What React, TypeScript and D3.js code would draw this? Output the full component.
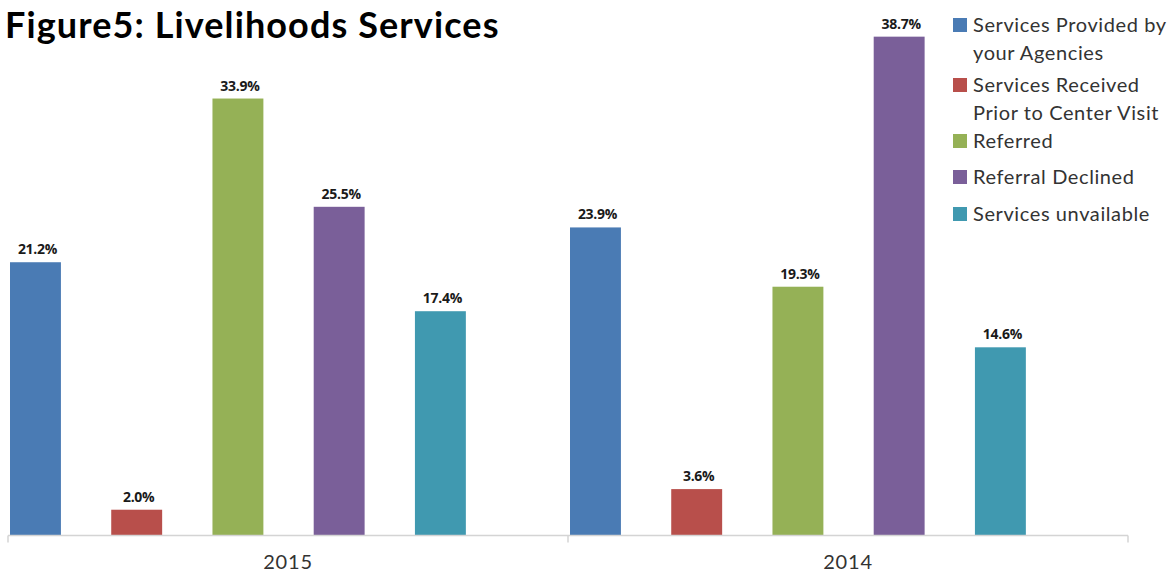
import React from "react";
import * as d3 from "d3";

const title = "Figure5: Livelihoods Services";
const years = ["2015", "2014"];
const seriesNames = [
  "Services Provided by your Agencies",
  "Services Received Prior to Center Visit",
  "Referred",
  "Referral Declined",
  "Services unvailable",
];
const legendLines = [
  ["Services Provided by", "your Agencies"],
  ["Services Received", "Prior to Center Visit"],
  ["Referred"],
  ["Referral Declined"],
  ["Services unvailable"],
];
const values2015 = [21.2, 2.0, 33.9, 25.5, 17.4];
const values2014 = [23.9, 3.6, 19.3, 38.7, 14.6];
const colors = ["#4a7bb4", "#b84f4b", "#95b156", "#7a5f99", "#4099b0"];

const W = 1171;
const H = 574;

export default function App() {
  const valuesByYear: Record<string, number[]> = { "2015": values2015, "2014": values2014 };
  const x0 = d3.scaleBand().domain(years).range([8, 1128]).padding(0);
  const x1 = d3
    .scaleBand()
    .domain(seriesNames)
    .range([2, 2 + 101.3 * 4.5])
    .paddingInner(0.497)
    .paddingOuter(0);
  const y = d3.scaleLinear().domain([0, 40]).range([535.5, 535.5 - 40 * 12.89]);
  const baseY = y(0);

  const legendY = [
    [25, 53],
    [85, 113],
    [141],
    [177],
    [214],
  ];

  return (
    <svg width={W} height={H} style={{ display: "block", position: "absolute", left: 0, top: 0 }}>
      <rect width={W} height={H} fill="#ffffff" />
      <text x={5} y={38} fontFamily="Lato" fontWeight={700} fontSize={36} letterSpacing={1.1} fill="#000">
        {title}
      </text>
      {years.map((yr) => (
        <g key={yr} transform={`translate(${x0(yr)},0)`}>
          {seriesNames.map((s, i) => {
            const v = valuesByYear[yr][i];
            const bx = x1(s)!;
            const bw = x1.bandwidth();
            return (
              <g key={s}>
                <rect x={bx} y={y(v)} width={bw} height={baseY - y(v)} fill={colors[i]} />
                <text
                  x={bx + bw / 2 + 2}
                  y={y(v) - 8}
                  textAnchor="middle"
                  fontFamily="Open Sans"
                  fontWeight={700}
                  fontSize={14}
                  letterSpacing={-0.3}
                  fill="#1a1a1a"
                >
                  {v.toFixed(1)}%
                </text>
              </g>
            );
          })}
          <text
            x={x0.bandwidth() / 2}
            y={569}
            textAnchor="middle"
            fontFamily="Lato"
            fontSize={20}
            letterSpacing={0.8}
            fill="#333"
          >
            {yr}
          </text>
        </g>
      ))}
      <line x1={8} x2={1128} y1={baseY} y2={baseY} stroke="#d4d4d4" strokeWidth={1.5} />
      {[...years.map((yr) => x0(yr)!), 1128].map((tx, i) => (
        <line key={i} x1={tx} x2={tx} y1={baseY} y2={baseY + 7} stroke="#d4d4d4" strokeWidth={1.5} />
      ))}
      {legendLines.map((lines, i) => (
        <g key={i}>
          <rect x={953} y={legendY[i][0] - 7} width={14} height={14} fill={colors[i]} />
          {lines.map((ln, j) => (
            <text
              key={j}
              x={973}
              y={legendY[i][j] + 7}
              fontFamily="Lato"
              fontSize={20}
              letterSpacing={0.6}
              fill="#333"
            >
              {ln}
            </text>
          ))}
        </g>
      ))}
    </svg>
  );
}
